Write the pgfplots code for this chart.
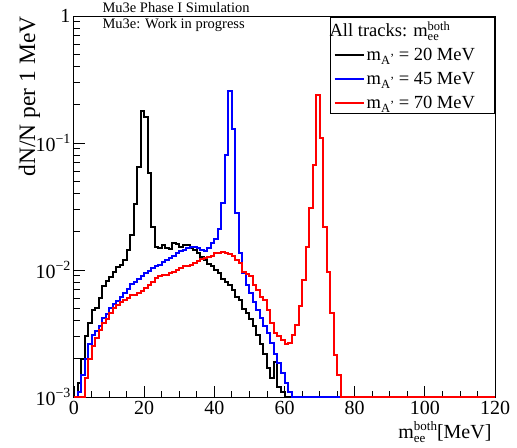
\documentclass[border=0pt]{standalone}
\usepackage{fontspec}
\setmainfont{Liberation Serif}
\usepackage{pgfplots}
\pgfplotsset{compat=1.18}

% ROOT-like power-of-ten and sub/superscript labels in the text font
\newcommand\tp[1]{10\raisebox{0.85ex}{\fontsize{14bp}{14bp}\selectfont #1}}
\newcommand\mee[1]{m\rlap{\raisebox{-0.45ex}{\fontsize{#1}{#1}\selectfont ee}}\raisebox{0.8ex}{\fontsize{#1}{#1}\selectfont both}}
\newcommand\mA{m\raisebox{-0.5ex}{\fontsize{12.5bp}{12.5bp}\selectfont A\raisebox{0.45ex}{'}}}

\pgfplotstableread{
x y
0 0.001
1 0.0013
2 0.002
3 0.003
4 0.0038
5 0.0048
6 0.005
7 0.006
8 0.0075
9 0.0082
10 0.0088
11 0.0096
12 0.0105
13 0.011
14 0.012
15 0.0144
16 0.019
17 0.033
18 0.065
19 0.18
20 0.16
21 0.058
22 0.022
23 0.0153
24 0.0150
25 0.0157
26 0.0150
27 0.0147
28 0.0162
29 0.0160
30 0.0152
31 0.0156
32 0.0158
33 0.0150
34 0.0144
35 0.0135
36 0.0127
37 0.0120
38 0.0112
39 0.0107
40 0.0100
41 0.0094
42 0.0085
43 0.0080
44 0.0076
45 0.0070
46 0.0061
47 0.0058
48 0.0049
49 0.0046
50 0.0041
51 0.0036
52 0.0031
53 0.0026
54 0.0022
55 0.0017
56 0.0014
57 0.0019
58 0.0012
59 0.0011
60 0.001
120 0.001
}\histA

\pgfplotstableread{
x y
0 0.001
1 0.0011
2 0.0015
3 0.002
4 0.0026
5 0.0031
6 0.0033
7 0.0036
8 0.0042
9 0.0045
10 0.005
11 0.0054
12 0.0057
13 0.0061
14 0.0066
15 0.0071
16 0.0078
17 0.0081
18 0.0085
19 0.0089
20 0.0094
21 0.0098
22 0.0103
23 0.0107
24 0.011
25 0.0116
26 0.012
27 0.0124
28 0.013
29 0.0135
30 0.014
31 0.0144
32 0.015
33 0.0153
34 0.0152
35 0.0148
36 0.0144
37 0.0142
38 0.0148
39 0.0162
40 0.0175
41 0.021
42 0.034
43 0.08
44 0.255
45 0.13
46 0.028
47 0.0136
48 0.0095
49 0.0076
50 0.0066
51 0.0056
52 0.0048
53 0.0042
54 0.0036
55 0.0032
56 0.00265
57 0.0022
58 0.00185
59 0.00155
60 0.0013
61 0.0011
62 0.001
120 0.001
}\histB

\pgfplotstableread{
x y
0 0.001
3 0.0014
4 0.002
5 0.0025
6 0.0029
7 0.0034
8 0.0038
9 0.0041
10 0.0046
11 0.005
12 0.0053
13 0.0056
14 0.0058
15 0.006
16 0.0063
17 0.0064
18 0.0066
19 0.0068
20 0.0072
21 0.0076
22 0.0081
23 0.0086
24 0.0089
25 0.0091
26 0.0092
27 0.0094
28 0.0097
29 0.0100
30 0.0103
31 0.0107
32 0.0108
33 0.0110
34 0.0114
35 0.0117
36 0.0122
37 0.0124
38 0.0127
39 0.0130
40 0.0135
41 0.0137
42 0.0139
43 0.0137
44 0.0133
45 0.0130
46 0.0120
47 0.0113
48 0.0096
49 0.0093
50 0.0090
51 0.0076
52 0.0070
53 0.0061
54 0.0058
55 0.0048
56 0.0038
57 0.0032
58 0.0030
59 0.0028
60 0.0026
61 0.00265
62 0.0031
63 0.0037
64 0.0052
65 0.0084
66 0.0153
67 0.031
68 0.067
69 0.24
70 0.109
71 0.022
72 0.0096
73 0.0046
74 0.00215
75 0.0015
76 0.001
120 0.001
}\histC

\begin{document}
\begin{tikzpicture}
  \useasboundingbox (-74bp,-51bp) rectangle (443bp,397bp);
  \begin{axis}[
    scale only axis,
    width=421bp,
    height=381bp,
    ymode=log,
    xmin=0, xmax=120,
    ymin=0.001, ymax=1,
    clip=false,
    axis line style={line width=1bp},
    tick align=inside,
    tick pos=left,
    major tick length=11bp,
    minor tick length=6bp,
    every tick/.style={black, line width=0.8bp},
    xtick={0,20,...,120},
    xticklabels={0,20,40,60,80,100,120},
    minor x tick num=3,
    ytick={0.001,0.01,0.1,1},
    yticklabels={\tp{−3},\tp{−2},\tp{−1},1},
    minor ytick={0.002,0.003,0.004,0.005,0.006,0.007,0.008,0.009,
                 0.02,0.03,0.04,0.05,0.06,0.07,0.08,0.09,
                 0.2,0.3,0.4,0.5,0.6,0.7,0.8,0.9},
    tick label style={font=\fontsize{20bp}{24bp}\selectfont},
    xticklabel style={yshift=-1bp},
    xlabel={\mee{13bp}[MeV]},
    xlabel style={at={(axis description cs:1,-0.108)}, anchor=base east,
                  font=\fontsize{20bp}{24bp}\selectfont},
    ylabel={dN/N per 1 MeV},
    ylabel style={at={(axis description cs:-0.0926,1.008)}, anchor=base east,
                  font=\fontsize{23.5bp}{28bp}\selectfont},
    legend cell align=left,
    legend image code/.code={\draw[#1] (0bp,0bp) -- (29bp,0bp);},
    legend style={at={(rel axis cs:1,1)}, anchor=north east, yshift=-1bp,
                  draw=black, line width=0.8bp, fill=white,
                  inner xsep=3bp, inner ysep=2bp, row sep=6bp,
                  font=\fontsize{18.5bp}{21bp}\selectfont},
  ]
    \addlegendimage{empty legend}
    \addlegendentry{\hspace*{-37bp}All tracks: \mee{12.5bp}}
    \addplot[const plot, black, line width=2bp] table {\histA};
    \addlegendentry{\makebox[123bp][l]{\mA{} = 20 MeV}}
    \addplot[const plot, blue, line width=2bp] table {\histB};
    \addlegendentry{\makebox[123bp][l]{\mA{} = 45 MeV}}
    \addplot[const plot, red, line width=2bp] table {\histC};
    \addlegendentry{\makebox[123bp][l]{\mA{} = 70 MeV}}

    \node[anchor=base west, font=\fontsize{14.5bp}{17bp}\selectfont]
      at (rel axis cs:0.0594,1.0105) {Mu3e Phase I Simulation};
    \node[anchor=base west, font=\fontsize{14.5bp}{17bp}\selectfont]
      at (rel axis cs:0.0594,0.9685) {Mu3e: Work in progress};
  \end{axis}
\end{tikzpicture}
\end{document}
